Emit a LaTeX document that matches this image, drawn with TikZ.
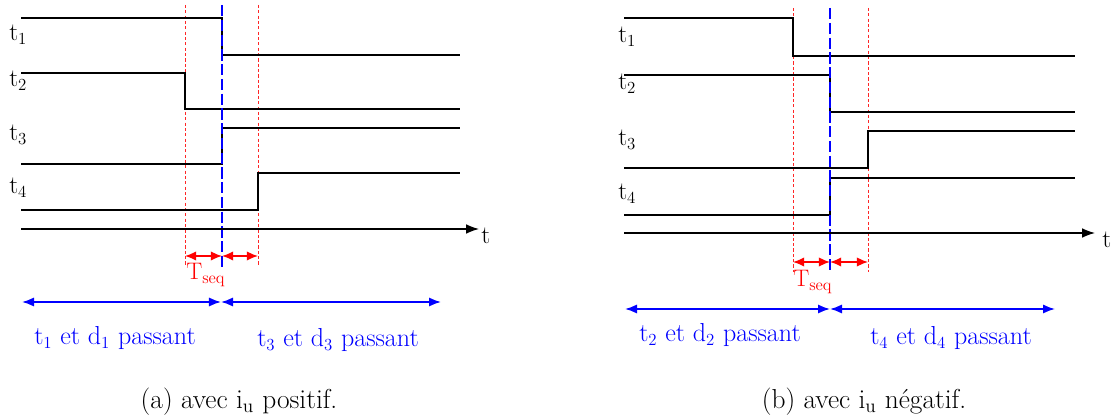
\documentclass[tikz,border=0pt]{standalone}
\usepackage{amsmath}
\usepackage{tikz}
\usetikzlibrary{arrows.meta}
\tikzset{
  signal/.style={line width=1.4pt, line join=miter},
  timeaxis/.style={-{Latex[length=3.2mm, width=2.4mm]}, line width=0.9pt},
  reddash/.style={red!85, line width=0.7pt, dash pattern=on 2.2pt off 1.6pt},
  bluedash/.style={blue, line width=1.1pt, dash pattern=on 8pt off 2.5pt},
  seqarrow/.style={{Latex[length=2.8mm, width=2.4mm]}-{Latex[length=2.8mm, width=2.4mm]}, red, line width=1.2pt},
  passarrow/.style={{Latex[length=3mm, width=2.3mm]}-{Latex[length=3mm, width=2.3mm]}, blue, line width=1.2pt},
  siglabel/.style={anchor=base west, inner sep=0pt, font=\fontsize{18}{21}\selectfont},
  seqlabel/.style={anchor=base west, inner sep=0pt, text=red, font=\fontsize{17}{20}\selectfont},
  passlabel/.style={anchor=base, inner sep=0pt, text=blue, font=\fontsize{18.5}{22}\selectfont},
  caption/.style={anchor=base, inner sep=0pt, font=\fontsize{19.5}{23}\selectfont}
}

\begin{document}
\begin{tikzpicture}[x=0.025cm, y=-0.025cm, >=Latex]
  \useasboundingbox (0,0) rectangle (1112,419);

  % (a) avec i_u positif
  \draw[reddash] (185,5) -- (185,265);
  \draw[reddash] (258,5) -- (258,265);
  \draw[signal] (21,18) -| (222,55) -- (460,55);
  \draw[signal] (21,73) -| (185,109) -- (460,109);
  \draw[signal] (21,164) -| (222,128) -- (460,128);
  \draw[signal] (21,210) -| (258,173) -- (460,173);
  \draw[bluedash] (222,5) -- (222,267);
  \node[siglabel] (a-t1) at (9,41) {t$_1$};
  \node[siglabel] (a-t2) at (9,87) {t$_2$};
  \node[siglabel] (a-t3) at (9,141) {t$_3$};
  \node[siglabel] (a-t4) at (9,194) {t$_4$};
  \coordinate (a-o) at (21,229);
  \coordinate (a-e) at (479,229);
  \draw[timeaxis] (a-o) -- (a-e);
  \node[siglabel] (a-t) at (481,244) {t};
  \coordinate (a-r1) at (185,256);
  \coordinate (a-b) at (222,256);
  \coordinate (a-r2) at (258,256);
  \draw[seqarrow] (a-r1) -- (a-b);
  \draw[seqarrow] (a-b) -- (a-r2);
  \node[seqlabel] (a-seq) at (186,280) {T$_\text{seq}$};
  \coordinate (a-p0) at (22,302);
  \coordinate (a-p1) at (221,302);
  \coordinate (a-p2) at (441,302);
  \draw[passarrow] (a-p0) -- (a-p1);
  \draw[passarrow] (a-p1) -- (a-p2);
  \node[passlabel] (a-pass1) at (115,345) {t$_1$ et d$_1$ passant};
  \node[passlabel] (a-pass3) at (338,347) {t$_3$ et d$_3$ passant};
  \node[caption] (a-cap) at (239,408) {(a) avec i$_\text{u}$ positif.};

  % (b) avec i_u negatif
  \draw[reddash] (793,8) -- (793,272);
  \draw[reddash] (868,8) -- (868,272);
  \draw[signal] (624,18) -| (793,56) -- (1075,56);
  \draw[signal] (624,75) -| (830,112) -- (1075,112);
  \draw[signal] (624,168) -| (868,131) -- (1075,131);
  \draw[signal] (624,215) -| (830,178) -- (1075,178);
  \draw[bluedash] (830,8) -- (830,270);
  \node[siglabel] (b-t1) at (618,43) {t$_1$};
  \node[siglabel] (b-t2) at (618,90) {t$_2$};
  \node[siglabel] (b-t3) at (618,146) {t$_3$};
  \node[siglabel] (b-t4) at (618,200) {t$_4$};
  \coordinate (b-o) at (624,233);
  \coordinate (b-e) at (1095,233);
  \draw[timeaxis] (b-o) -- (b-e);
  \node[siglabel] (b-t) at (1102,248) {t};
  \coordinate (b-r1) at (793,262);
  \coordinate (b-b) at (830,262);
  \coordinate (b-r2) at (868,262);
  \draw[seqarrow] (b-r1) -- (b-b);
  \draw[seqarrow] (b-b) -- (b-r2);
  \node[seqlabel] (b-seq) at (793,287) {T$_\text{seq}$};
  \coordinate (b-p0) at (625,309);
  \coordinate (b-p1) at (830,309);
  \coordinate (b-p2) at (1055,309);
  \draw[passarrow] (b-p0) -- (b-p1);
  \draw[passarrow] (b-p1) -- (b-p2);
  \node[passlabel] (b-pass2) at (720,342) {t$_2$ et d$_2$ passant};
  \node[passlabel] (b-pass4) at (951,345) {t$_4$ et d$_4$ passant};
  \node[caption] (b-cap) at (864,408) {(b) avec i$_\text{u}$ négatif.};
\end{tikzpicture}
\end{document}
